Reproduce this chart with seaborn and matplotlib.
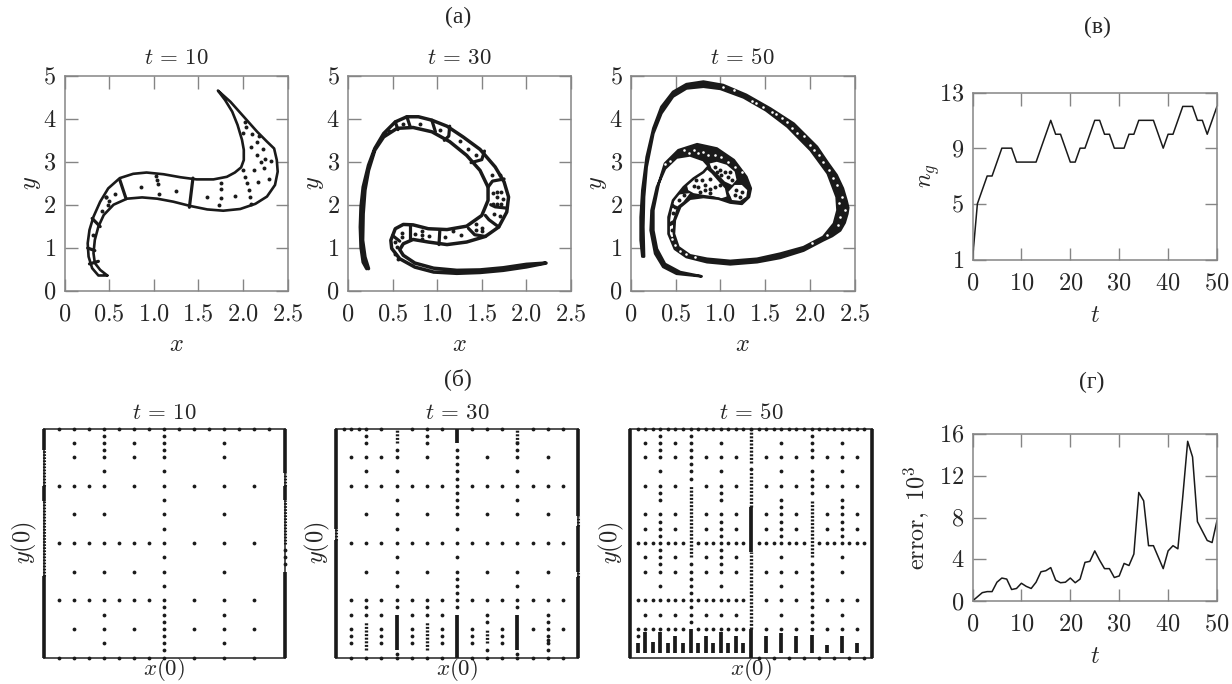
import matplotlib
matplotlib.use("Agg")
import matplotlib.pyplot as plt
import seaborn as sns

sns.set_theme(style="white")
plt.rcParams["mathtext.fontset"] = "cm"
plt.rcParams["font.family"] = ["Liberation Serif", "DejaVu Serif"]

W, H = 1232, 684
FS = 17.5
GRAY = "#858585"

# ---- phase portraits: outlines and inner dots, in (x, y) ----
p10_edge_x = [.48,.38,.31,.27,.26,.28,.325,.40,.49,.62,.77,.92,1.11,1.30,1.48,1.67,1.82,1.91,1.98,2.01,2.01,1.99,1.94,1.88,1.80,1.72,
              1.86,2.01,2.16,2.27,2.35,2.38,2.39,2.36,2.27,2.14,1.97,1.78,1.60,1.41,1.22,1.04,.87,.70,.55,.44,.38,.34,.325,.34,.40,.48]
p10_edge_y = [.35,.35,.52,.79,1.10,1.41,1.72,2.07,2.38,2.62,2.72,2.75,2.71,2.64,2.59,2.59,2.65,2.75,2.87,3.04,3.28,3.51,3.86,4.17,4.44,4.66,
              4.40,4.05,3.70,3.47,3.31,3.04,2.77,2.46,2.19,2.02,1.90,1.86,1.89,1.97,2.07,2.14,2.17,2.14,2.0,1.76,1.49,1.18,.87,.64,.48,.35]
p10_cuts = [([.62,.69],[2.58,2.14]), ([.31,.40],[1.68,1.49]), ([.26,.34],[.99,.93]),
            ([.28,.38],[.62,.68]), ([1.44,1.40],[2.62,1.94])]
p10_dot_x = [.86,1.25,1.60,1.91,.57,.47,.49,.42,.32,2.10,2.18,2.16,2.09,2.22,2.16,2.25,2.20,2.32,2.12,2.24,2.17,2.29,
             1.03,1.04,1.05,1.06,1.75,1.75,1.75,1.73,2.00,2.02,2.05,2.07,2.08,2.09,2.02,2.04,2.00,.46,.50]
p10_dot_y = [2.42,2.31,2.17,2.20,2.24,2.17,2.0,1.86,1.30,3.64,3.60,3.47,3.34,3.30,3.16,3.06,2.99,3.02,2.80,2.85,2.53,2.60,
             2.68,2.58,2.48,2.25,2.50,2.37,2.15,2.0,2.80,2.65,2.50,2.35,2.18,2.02,3.92,3.80,3.68,2.18,2.08]

p30_edge_x = [.21,.17,.146,.138,.146,.17,.23,.30,.40,.53,.66,.79,.94,1.11,1.29,1.48,1.65,1.75,1.80,1.78,1.69,1.54,1.33,1.11,.90,.73,.62,.58,.62,.75,.96,1.22,1.48,1.74,2.00,2.22,
              2.00,1.74,1.48,1.22,.96,.75,.58,.49,.48,.53,.62,.73,.90,1.11,1.33,1.50,1.57,1.57,1.48,1.33,1.14,.94,.73,.55,.40,.30,.23,.19,.17,.164,.19,.23]
p30_edge_y = [.51,.66,1.01,1.48,1.95,2.41,2.92,3.31,3.66,3.93,4.05,4.05,3.97,3.83,3.58,3.29,2.88,2.53,2.18,1.83,1.48,1.26,1.13,1.07,1.13,1.19,1.09,.95,.82,.64,.52,.47,.48,.53,.61,.64,
              .55,.47,.42,.40,.43,.545,.74,.98,1.17,1.44,1.54,1.53,1.44,1.42,1.50,1.75,2.10,2.41,2.80,3.15,3.47,3.70,3.80,3.78,3.58,3.27,2.80,2.34,1.79,1.17,.78,.51]
p30_cuts = [([.53,.56],[3.93,3.75]), ([.66,.70],[4.05,3.80]), ([.94,.98],[3.97,3.70]),
            ([1.14,1.13,1.08],[3.83,3.60,3.50]), ([1.53,1.50,1.38],[3.25,3.05,2.98]),
            ([1.75,1.62,1.57],[2.60,2.55,2.41]), ([1.78,1.65,1.60],[1.92,1.95,2.0]),
            ([1.69,1.58,1.54],[1.48,1.65,1.75]), ([1.54,1.42,1.35],[1.26,1.30,1.45]),
            ([1.02,1.03],[1.07,1.42]), ([.70,.70],[1.19,1.53]), ([.58,.50],[1.15,1.28])]
p30_dot_x = [.46,.62,.81,1.03,1.25,1.43,1.61,1.70,1.62,1.67,1.72,1.67,1.74,1.71,1.67,1.62,1.64,1.70,1.44,1.50,1.43,1.50,1.27,1.09,.91,.83,.83,.83,.75,.61,.61,.53,.55,.53,.56,1.18,1.35]
p30_dot_y = [3.72,3.88,3.89,3.75,3.49,3.17,2.69,2.69,2.27,2.30,2.30,2.18,2.14,2.02,2.02,2.02,1.79,1.74,1.54,1.46,1.40,1.39,1.30,1.25,1.26,1.38,1.29,1.19,1.32,1.34,1.25,1.13,1.01,.86,.74,1.38,3.30]

p50_edge_x = [.127,.108,.108,.127,.175,.25,.34,.47,.62,.81,1.03,1.29,1.56,1.82,2.08,2.20,2.30,2.37,2.41,2.43,2.42,2.39,2.34,2.25,2.15,1.93,1.67,1.41,1.11,.85,.62,.49,.42,.42,.47,.59,.70,.81,.87,.81,.66,.51,.38,.29,.23,.22,.27,.36,.51,.79,
              .55,.38,.29,.25,.25,.31,.38,.53,.74,.96,1.15,1.29,1.34,1.32,1.24,1.11,.98,.81,.66,.55,.49,.48,.53,.66,.85,1.11,1.41,1.67,1.93,2.15,2.27,2.31,2.30,2.20,2.01,1.75,1.51,1.26,1.00,.81,.62,.47,.34,.25,.175,.146,.138,.146]
p50_edge_y = [.79,1.17,1.71,2.34,3.11,3.78,4.28,4.63,4.81,4.87,4.79,4.56,4.24,3.89,3.35,2.98,2.69,2.38,2.10,1.93,1.79,1.58,1.40,1.27,1.17,.93,.76,.66,.61,.66,.78,.97,1.32,1.71,2.10,2.41,2.61,2.76,2.90,3.04,3.15,3.10,2.84,2.41,1.87,1.40,.86,.55,.39,.33,
              .43,.62,.97,1.40,1.87,2.49,2.96,3.27,3.41,3.31,3.04,2.65,2.38,2.18,2.02,2.05,2.14,2.18,2.14,1.95,1.64,1.32,1.01,.82,.74,.69,.74,.86,1.01,1.25,1.56,1.87,2.18,2.73,3.27,3.82,4.20,4.50,4.70,4.75,4.71,4.52,4.13,3.66,2.88,2.18,1.48,.79]
# white cells of the lobe
p50_cells = [([.81,.70,.62,.64,.70,.81,.92,1.01,1.07,1.05,.98,.90,.85], [2.82,2.65,2.50,2.34,2.27,2.23,2.20,2.15,2.19,2.38,2.54,2.73,2.82]),
             ([.88,.96,1.07,1.16,1.18,1.13,1.05,.98,.90], [2.96,3.0,2.93,2.77,2.58,2.46,2.54,2.69,2.85]),
             ([1.09,1.16,1.24,1.30,1.29,1.22,1.13], [2.30,2.46,2.46,2.34,2.19,2.09,2.11]),
             ([.51,.66,.585,.51,.47], [2.23,2.27,2.07,1.95,2.03]),
             ([.455,.51,.47,.436], [1.92,1.92,1.64,1.60]),
             ([.43,.47,.47,.43], [1.49,1.53,1.25,1.25])]
p50_fleck_x = [.59,.65,.70,.75,.81,.86,.94,1.01,1.09,1.16,1.24,.38,.44,1.35,1.48,1.58,1.69,1.80,1.93,2.0,2.10,2.15,2.21,2.30,2.36,2.39,2.34,2.32,2.19,.46,.49,.55,.62,.72,2.03,1.03,1.15,1.40,1.62,1.75,1.86,2.05,2.26,2.33]
p50_fleck_y = [3.27,3.20,3.27,3.20,3.23,3.16,3.16,3.12,3.0,2.88,2.77,2.96,3.03,4.42,4.28,4.17,4.01,3.78,3.59,3.39,3.16,3.0,2.81,2.46,2.19,1.88,1.72,1.53,1.30,1.2,1.05,.93,.85,.79,1.1,4.74,4.67,4.36,4.12,3.92,3.68,3.27,2.62,2.05]
p50_dot_x = [.73,.79,.88,.70,.75,.83,.88,.94,1.0,.77,.83,.88,.94,1.0,.96,1.05,1.01,1.09,1.13,1.11,1.18,1.24,1.16,1.22,1.09,.59,.54,.49,.47,.46]
p50_dot_y = [2.58,2.58,2.59,2.44,2.42,2.46,2.36,2.42,2.46,2.30,2.34,2.27,2.89,2.81,2.77,2.77,2.69,2.65,2.58,2.77,2.34,2.30,2.23,2.19,2.19,2.23,2.10,1.94,1.80,1.41]

# ---- initial-condition grids: rows lists per column, in 1/16 of the side ----
g10_rows = {1:[16,12,8,4,0], 2:[16,15,14,12,10,8,6,4,2,0], 3:[16,12,8,4,0],
            4:[16,15.5,15,14.5,14,13,12,10,8,6,4,3,2,1,0], 5:[16,8,4,0],
            6:[16,15,14,12,8,6,4,2,0], 7:[16,8,4,0],
            8:[16,15.5,15,14.5,14,13,12,11,10,9,8,7,6,5,4,3.5,3,2.5,2,1.5,1,.5,0],
            9:[16], 10:[16,12,8,4,2,0], 11:[16], 12:[16,15,14,12,10,8,6,4,3,2,1,0],
            13:[16], 14:[16,12,8,4,2,0], 15:[16]}
g10_edge_solid = [(0,14.5,16),(0,10.9,12),(0,0,5.7),(16,12.9,16),(16,11,12),(16,0,6)]
g10_edge_dotted = [(0,12,14.5),(0,5.7,10.9),(16,12,12.9),(16,7.9,11)]
g10_extra_x = [16,16,16]
g10_extra_y = [7.5,7,6.5]

g30_rows = {.5:[16], 1:[16,14,12,8,4,3,2,1.5,1,0], 1.5:[16],
            2:[16,15.5,15,14,13,12,10,8,6,4,3.5,3,0], 3:[16,14,12,8,4,3,2,1.5,1,0],
            4:[14.5,14,13,12,11,10,9,8,7,6,5,4,3.5,.25,0], 5:[16,12,8,4,3,2,1.5,1,0],
            6:[16,15.5,15,14,12,10,8,6,4,3.5,3,0], 7:[16,12,8,4,3,2,1.5,1,0],
            8:[14.5,14,13.5,13,12.5,12,11.5,11,10.5,10,9,8,7,6,5.5,5,4.5,4,3.5],
            9:[16,12,8,4,2,1.5,1,0], 10:[16,14,12,10,8,6,4,3,2.5,.5,0], 11:[16,12,8,4,2,1.5,1,0],
            12:[15,14.5,14,13,12,11,10,8,6,5,4,3.5,.25,0], 13:[16,12,8,4,2,0],
            14:[16,14,12,10,8,6,4,3,2.5,2,1.5,1.25,1,.5,0], 15:[16,12,8,4,2,0]}
g30_stub_x = [4,8,8,12]
g30_stub_y0 = [.5,0,15,.5]
g30_stub_y1 = [3,3,16,3]
g30_dense_x = [2,4,6,10,12]
g30_dense_y0 = [.5,15,.5,1,15]
g30_dense_y1 = [2.5,16,2.5,2,16]
g30_edge_solid = [(0,0,8.2),(0,9,16),(16,0,5.6),(16,6,9.2),(16,9.9,16)]
g30_edge_dotted = [(0,8.2,9),(16,5.6,6),(16,9.2,9.9)]

g50_rows = {.5:[16,8,4,2,1.5], 1:[16,15,14,12,10,9,8,7,6,4,3,2], 1.5:[16,8,4,2],
            2:[16,15.5,15,14.5,14,13,12,11.5,11,10,9.5,9,8.5,8,7.5,7,6.5,6,5,4,3,2], 2.5:[16,8,4,2],
            3:[16,15,14,12,10,9,8,7,6,4,3,2], 3.5:[16,8,4,2],
            4:[16,15.5,15,14.5,14,13.5,13,12.5,6.5,6,5.5,5,4.5,4,3.5,3,2.5], 4.5:[16,8,4,2],
            5:[16,14,12,10,9,8,7,6,4,3,2], 5.5:[16,8,4,2],
            6:[16,15,14,13,12,11.5,11,10,9.5,9,8.5,8,7.5,7,6.5,6,5,4,3,2], 6.5:[16,8,4,2],
            7:[16,14,12,10,9,8,7,6,4,3,2], 7.5:[16,8,4,2], 8:[16,13.2],
            8.5:[16,8,0], 9:[16,14,12,10,9,8,6,4,2], 9.5:[16,8,0],
            10:[16,15,14,13,12,11,10.5,10,9.5,9,8.5,8,7,6,5,4,3,2], 10.5:[16,8,0],
            11:[16,14,12,10,9,8,6,4,2], 11.5:[16,8,0],
            12:[16,15.5,15,14.5,14,13,12.5,12,11.5,6.5,6,5.5,5,4.5,4,3.5,3,2.5,2], 12.5:[16,8,0],
            13:[16,14,12,10,9,8,4,2], 13.5:[16,8,0],
            14:[16,15,14,13,12,11,10.5,10,9.5,9,8.5,8,7,6,4,3,2], 14.5:[16,8,0],
            15:[16,14,12,10,9,8,4,2], 15.5:[16,8,0]}
g50_stub_x = [.5,1,1.5,2,2.5,3,3.5,4,4.5,5,5.5,6,6.5,7,7.5,8,9,10,11,12,13,14,15,8]
g50_stub_y0 = [.3]*15 + [0] + [.3]*7 + [7.4]
g50_stub_y1 = [1,1.8,1.1,1.8,1,1.5,1,2,1,1.5,1,1.8,1,1.5,1,2,1.5,1.7,1.5,1.6,.9,1.5,1,10.5]
g50_dense_x = [4,8,8,8,12]
g50_dense_y0 = [7,2,10.5,13.6,7]
g50_dense_y1 = [12,7.4,13,16,11]
g50_edge_solid = [(0,0,16),(16,0,16)]
g50_edge_dotted = []

# ---- time series ----
t = list(range(51))
n_g = [1,5,6,7,7,8,9,9,9,8,8,8,8,8,9,10,11,10,10,9,8,8,9,9,10,11,11,10,10,9,9,9,10,10,11,11,11,11,10,9,10,10,11,12,12,12,11,11,10,11,12]
err = [0,.4,.8,.9,.9,1.8,2.2,2.1,1.1,1.2,1.7,1.4,1.2,1.8,2.8,2.9,3.2,2.0,1.75,1.8,2.2,1.75,2.1,3.7,3.8,4.8,3.9,3.1,3.1,2.25,2.4,3.6,3.4,4.5,10.4,9.6,5.3,5.3,4.2,3.1,4.8,5.3,5.0,10,15.3,13.8,7.6,6.7,5.8,5.6,7.7]


def make_ax(fig, x0, x1, y0, y1):
    return fig.add_axes([x0 / W, 1 - y1 / H, (x1 - x0) / W, (y1 - y0) / H])


def frame(ax, xticks, xlabels, yticks, ylabels):
    ax.set_xticks(xticks, [f"${s}$" for s in xlabels])
    ax.set_yticks(yticks, [f"${s}$" for s in ylabels])
    ax.tick_params(axis="both", direction="in", length=9, width=1, color=GRAY,
                   top=True, right=True, bottom=True, left=True, labelsize=FS)
    ax.tick_params(axis="x", pad=10)
    ax.tick_params(axis="y", pad=6)
    for s in ax.spines.values():
        s.set_color(GRAY)
        s.set_linewidth(1.1)


def phase_panel(fig, box, ex, ey, cuts, dx, dy, title, lw, cells=None, flecks=None):
    ax = make_ax(fig, *box)
    if cells:
        ax.fill(ex, ey, color="k", lw=0)
        for cx, cy in cells:
            ax.fill(cx, cy, color="white", lw=0)
    sns.lineplot(x=ex, y=ey, sort=False, estimator=None, color="k", lw=lw,
                 solid_joinstyle="round", ax=ax)
    for cx, cy in cuts:
        sns.lineplot(x=cx, y=cy, sort=False, estimator=None, color="k", lw=2.3, ax=ax)
    if flecks:
        sns.scatterplot(x=flecks[0], y=flecks[1], s=3.5, color="white", linewidth=0, zorder=3, ax=ax)
    sns.scatterplot(x=dx, y=dy, s=8, color="k", linewidth=0, zorder=4, ax=ax)
    ax.set_xlim(0, 2.5)
    ax.set_ylim(0, 5)
    frame(ax, [0, .5, 1, 1.5, 2, 2.5], ["0", "0.5", "1.0", "1.5", "2.0", "2.5"],
          [0, 1, 2, 3, 4, 5], ["0", "1", "2", "3", "4", "5"])
    ax.set_title(f"$t\\,=\\,{title}$", fontsize=16.5, pad=9)
    ax.set_xlabel("$x$", fontsize=FS, labelpad=7)
    ax.set_ylabel("$y$", fontsize=FS, labelpad=0)


def grid_panel(fig, box, rows, solid, dotted, title, stub=None, dense=None, extra=None):
    ax = make_ax(fig, *box)
    xs = [c for c, rr in rows.items() for _ in rr]
    ys = [r for rr in rows.values() for r in rr]
    if extra:
        xs = xs + extra[0]
        ys = ys + extra[1]
    sns.scatterplot(x=xs, y=ys, s=7.5, color="k", linewidth=0, clip_on=False, zorder=3, ax=ax)
    for c, a, b in solid:
        ax.vlines(c, a, b, color="k", lw=2.6, clip_on=False, zorder=3)
    for c, a, b in dotted:
        ax.vlines(c, a, b, color="k", lw=2.2, linestyles=(0, (.55, .45)), clip_on=False, zorder=3)
    if stub:
        ax.vlines(stub[0], stub[1], stub[2], color="k", lw=2.7, clip_on=False, zorder=3)
    if dense:
        ax.vlines(dense[0], dense[1], dense[2], color="k", lw=2.4, linestyles=(0, (.6, .48)), zorder=3)
    ax.set_xlim(0, 16)
    ax.set_ylim(0, 16)
    ax.set_xticks([])
    ax.set_yticks([])
    for s in ax.spines.values():
        s.set_color("#222222")
        s.set_linewidth(1.1)
    ax.set_title(f"$t\\,=\\,{title}$", fontsize=16.5, pad=7)
    ax.set_xlabel("$x(0)$", fontsize=16.5, labelpad=-1)
    ax.set_ylabel("$y(0)$", fontsize=FS, labelpad=3)


fig = plt.figure(figsize=(W / 100, H / 100), dpi=100)

phase_panel(fig, (64.5, 287.5, 76, 290.5), p10_edge_x, p10_edge_y, p10_cuts, p10_dot_x, p10_dot_y, "10", 1.9)
phase_panel(fig, (348, 571, 76, 290.5), p30_edge_x, p30_edge_y, p30_cuts, p30_dot_x, p30_dot_y, "30", 2.5)
phase_panel(fig, (631, 854.5, 76, 290.5), p50_edge_x, p50_edge_y, [], p50_dot_x, p50_dot_y, "50", 1.9,
            cells=p50_cells, flecks=(p50_fleck_x, p50_fleck_y))

grid_panel(fig, (43.5, 284.5, 428.5, 657.5), g10_rows, g10_edge_solid, g10_edge_dotted, "10",
           extra=(g10_extra_x, g10_extra_y))
grid_panel(fig, (336, 578, 428.5, 657.5), g30_rows, g30_edge_solid, g30_edge_dotted, "30",
           stub=(g30_stub_x, g30_stub_y0, g30_stub_y1), dense=(g30_dense_x, g30_dense_y0, g30_dense_y1))
grid_panel(fig, (630, 872, 428.5, 657.5), g50_rows, g50_edge_solid, g50_edge_dotted, "50",
           stub=(g50_stub_x, g50_stub_y0, g50_stub_y1), dense=(g50_dense_x, g50_dense_y0, g50_dense_y1))

ax = make_ax(fig, 972.5, 1217, 92.5, 259.5)
sns.lineplot(x=t, y=n_g, color="k", lw=1.1, ax=ax)
ax.set_xlim(0, 50)
ax.set_ylim(1, 13)
frame(ax, [0, 10, 20, 30, 40, 50], ["0", "10", "20", "30", "40", "50"], [1, 5, 9, 13], ["1", "5", "9", "13"])
ax.set_xlabel("$t$", fontsize=FS, labelpad=8)
ax.set_ylabel("$n_g$", fontsize=FS, labelpad=-2)

ax = make_ax(fig, 972.5, 1217, 434, 601)
sns.lineplot(x=t, y=err, color="k", lw=1.1, ax=ax)
ax.set_xlim(0, 50)
ax.set_ylim(0, 16)
frame(ax, [0, 10, 20, 30, 40, 50], ["0", "10", "20", "30", "40", "50"], [0, 4, 8, 12, 16], ["0", "4", "8", "12", "16"])
ax.set_xlabel("$t$", fontsize=FS, labelpad=8)
ax.set_ylabel(r"$\mathrm{error},\ 10^3$", fontsize=FS, labelpad=5)

for label, px, py in [("(а)", 458, 17), ("(б)", 458, 379), ("(в)", 1097, 27), ("(г)", 1092, 382)]:
    fig.text(px / W, 1 - py / H, label, fontsize=17, ha="center", va="center")

fig.savefig("out.png", dpi=100)
